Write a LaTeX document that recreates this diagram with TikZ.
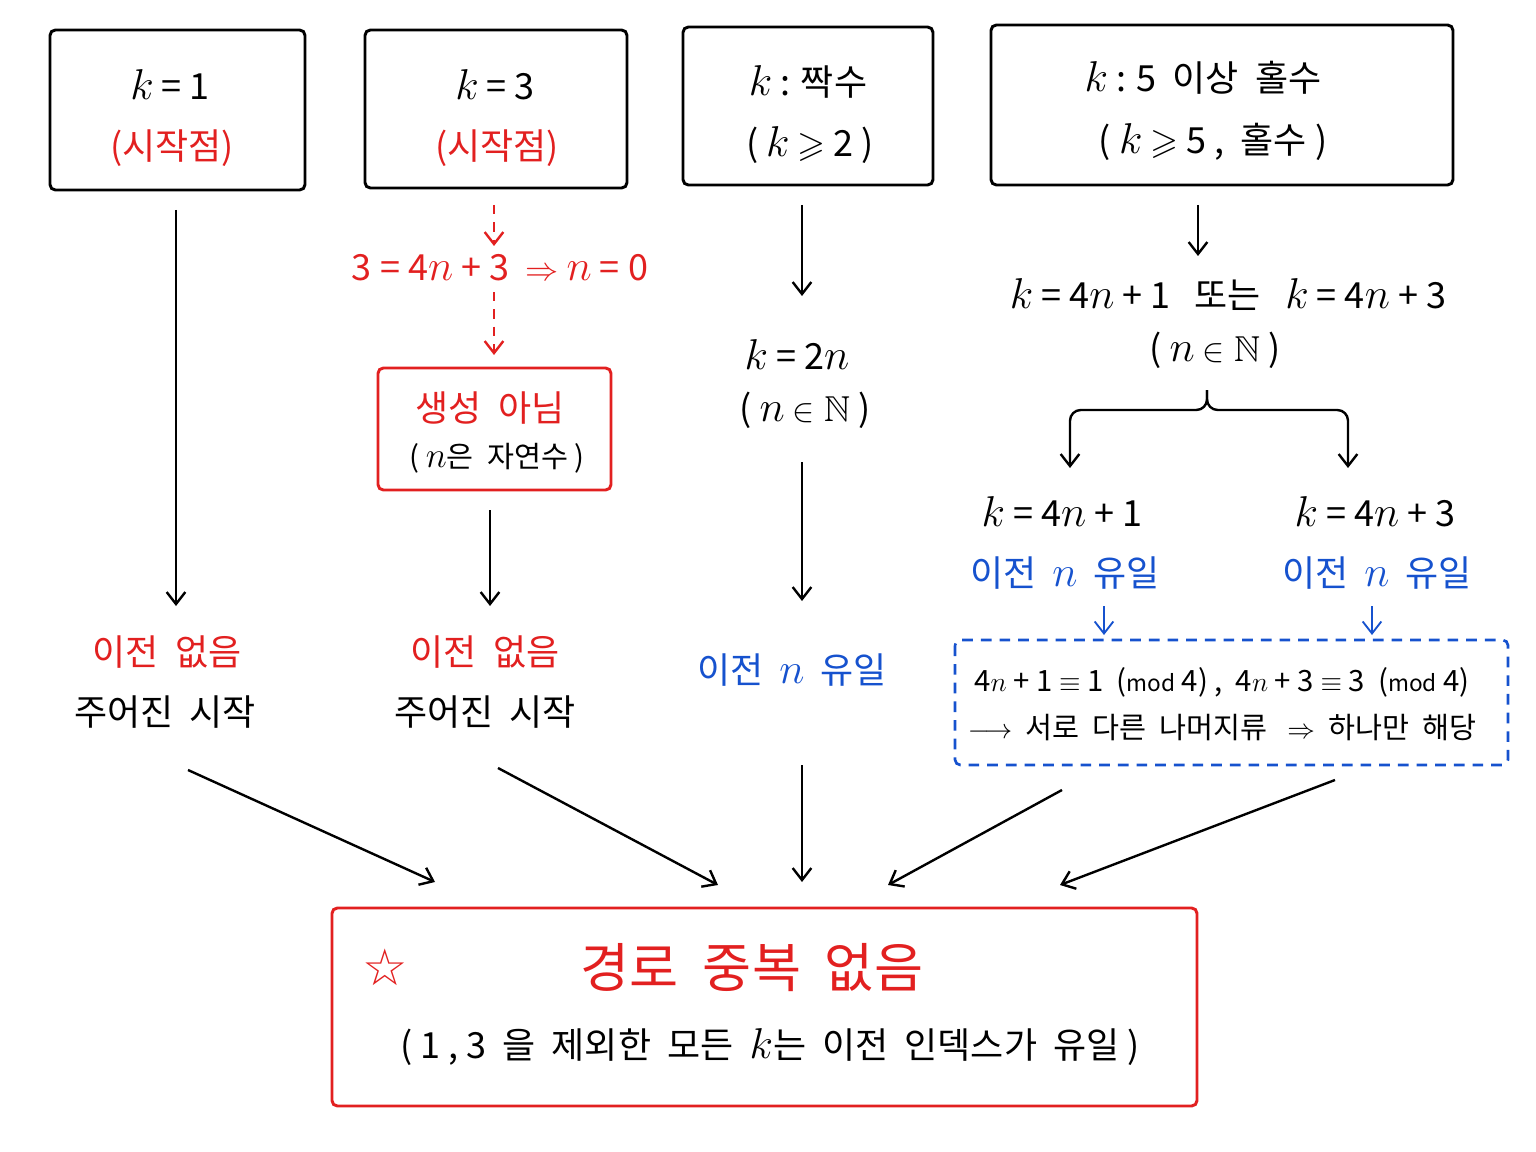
\documentclass[tikz,border=0pt]{standalone}
\usepackage{fontspec}
\usepackage{amssymb}
\setmainfont{Noto Sans CJK KR}
\newfontfamily\starfont{DejaVu Sans}
\usetikzlibrary{arrows.meta}
\definecolor{redtx}{RGB}{226,32,32}
\definecolor{bluetx}{RGB}{22,82,206}
\newcommand{\vk}{\scalebox{1.3}{$k$}}
\newcommand{\vn}{\scalebox{1.3}{$n$}}
\tikzset{every picture/.style={line width=2pt},
  box/.style={draw,rounded corners=4pt,line width=2.2pt},
  arr/.style={-{Straight Barb[length=9pt,width=14pt]},line width=1.8pt},
  big/.style={font=\fontsize{27}{33}\selectfont},
  mid/.style={font=\fontsize{22}{27}\selectfont},
}

\begin{document}
\begin{tikzpicture}[x=0.75pt,y=0.75pt,yscale=-1,xscale=1]
\path[use as bounding box] (0,0) rectangle (1536,1152);

%Top boxes
\draw [box] (50,30) rectangle (305,190);
\draw [box] (365,30) rectangle (627,188);
\draw [box] (683,27) rectangle (933,185);
\draw [box] (991,25) rectangle (1453,185);
\node (k1) [big] at (170,85) {\vk{} = 1};
\node (k1s) [big,text=redtx] at (172,148) {(시작점)};
\node (k3) [big] at (495,85) {\vk{} = 3};
\node (k3s) [big,text=redtx] at (497,148) {(시작점)};
\node (kev) [big] at (808,82) {\vk{} : 짝수};
\node (kevc) [big] at (810,145) {( \vk{} $\geqslant$ 2 )};
\node (kod) [big] at (1203,78) {\vk{} : 5 \ 이상 \ 홀수};
\node (kodc) [big] at (1213,142) {( \vk{} $\geqslant$ 5 , \ 홀수 )};

%Column 1
\node (none1) [big,text=redtx] at (167,652) {이전 \ 없음};
\node (giv1) [big] at (165,712) {주어진 \ 시작};
\coordinate (c1a) at (176,210); \coordinate (c1b) at (176,606);
\draw [arr] (c1a) -- (c1b);

%Column 2
\coordinate (c2a) at (494,205); \coordinate (c2b) at (494,246);
\coordinate (c2c) at (494,292); \coordinate (c2d) at (494,355);
\draw [arr,redtx,dash pattern=on 7pt off 6pt] (c2a) -- (c2b);
\node (eq3) [big,text=redtx] at (500,268) {3 = 4\vn{} + 3 \ $\Rightarrow$ \vn{} = 0};
\draw [arr,redtx,dash pattern=on 7pt off 6pt] (c2c) -- (c2d);
\draw [box,redtx] (378,368) rectangle (611,490);
\node (notg) [big,text=redtx] at (490,408) {생성 \ 아님};
\node (natn) [mid] at (497,458) {( \vn{}은 \ 자연수 )};
\coordinate (c2e) at (490,510); \coordinate (c2f) at (490,606);
\draw [arr] (c2e) -- (c2f);
\node (none2) [big,text=redtx] at (485,652) {이전 \ 없음};
\node (giv2) [big] at (485,712) {주어진 \ 시작};

%Column 3
\coordinate (c3a) at (802,205); \coordinate (c3b) at (802,296);
\draw [arr] (c3a) -- (c3b);
\node (k2n) [big] at (797,355) {\vk{} = 2\vn};
\node (nN3) [big] at (805,410) {( \vn{} $\in\mathbb{N}$ )};
\coordinate (c3c) at (802,462); \coordinate (c3d) at (802,601);
\draw [arr] (c3c) -- (c3d);
\node (uni3) [big,text=bluetx] at (792,670) {이전 \ \vn{} \ 유일};

%Column 4
\coordinate (c4a) at (1198,205); \coordinate (c4b) at (1198,256);
\draw [arr] (c4a) -- (c4b);
\node (kor) [big] at (1228,295) {\vk{} = 4\vn{} + 1 \ \ 또는 \ \ \vk{} = 4\vn{} + 3};
\node (nN4) [big] at (1215,350) {( \vn{} $\in\mathbb{N}$ )};
\coordinate (br) at (1207,390); \coordinate (brl) at (1070,468); \coordinate (brr) at (1348,468);
\draw [arr,rounded corners=8pt] (br) -- (1207,410) -- (1070,410) -- (brl);
\draw [arr,rounded corners=8pt] (br) -- (1207,410) -- (1348,410) -- (brr);
\node (k41) [big] at (1062,512) {\vk{} = 4\vn{} + 1};
\node (uni41) [big,text=bluetx] at (1065,573) {이전 \ \vn{} \ 유일};
\node (k43) [big] at (1375,512) {\vk{} = 4\vn{} + 3};
\node (uni43) [big,text=bluetx] at (1377,573) {이전 \ \vn{} \ 유일};
\coordinate (c4c) at (1104,606); \coordinate (c4d) at (1104,635);
\coordinate (c4e) at (1372,606); \coordinate (c4f) at (1372,635);
\draw [arr,bluetx,line width=1.4pt] (c4c) -- (c4d);
\draw [arr,bluetx,line width=1.4pt] (c4e) -- (c4f);
\draw [bluetx,dash pattern=on 8pt off 6pt,rounded corners=4pt] (955,640) rectangle (1508,765);
\node (mod) [mid] at (1222,682) {4$n$ + 1 $\equiv$ 1 \ ({\fontsize{17}{20}\selectfont mod} 4) , \ 4$n$ + 3 $\equiv$ 3 \ ({\fontsize{17}{20}\selectfont mod} 4)};
\node (diff) [mid] at (1222,728) {$\longrightarrow$ \ 서로 \ 다른 \ 나머지류 \ \ $\Rightarrow$ \ 하나만 \ 해당};

%Bottom
\draw [box,redtx] (332,908) rectangle (1197,1106);
\node (star) [text=redtx,font=\starfont\fontsize{38}{40}\selectfont] at (385,967) {☆};
\node (res) [text=redtx,font=\fontsize{40}{46}\selectfont] at (752,968) {경로 \ 중복 \ 없음};
\node (resc) [big] at (770,1047) {( 1 , 3 \ 을 \ 제외한 \ 모든 \ \vk{}는 \ 이전 \ 인덱스가 \ 유일 )};
\coordinate (b1a) at (188,770); \coordinate (b1b) at (435,882);
\coordinate (b2a) at (498,768); \coordinate (b2b) at (718,885);
\coordinate (b3a) at (802,765); \coordinate (b3b) at (802,882);
\coordinate (b4a) at (1062,790); \coordinate (b4b) at (888,885);
\coordinate (b5a) at (1335,780); \coordinate (b5b) at (1060,885);
\foreach \s/\t in {b1a/b1b,b2a/b2b,b3a/b3b,b4a/b4b,b5a/b5b}
  \draw [arr] (\s) -- (\t);

\end{tikzpicture}
\end{document}
